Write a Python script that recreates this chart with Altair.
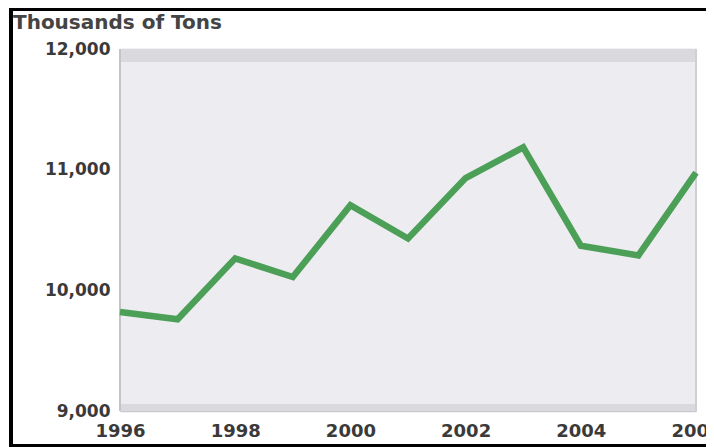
import altair as alt
import pandas as pd

years = [1996, 1997, 1998, 1999, 2000, 2001, 2002, 2003, 2004, 2005, 2006]
tons = [9820, 9760, 10265, 10110, 10705, 10430, 10930, 11185, 10370, 10290, 10975]
y_ticks = [9000, 10000, 11000, 12000]
x_ticks = [1996, 1998, 2000, 2002, 2004, 2006]
title_text = "Thousands of Tons"

df = pd.DataFrame({"year": years, "tons": tons})
one = pd.DataFrame({"k": [0]})

W, H = 576, 362
PR, PB = 10, 36
FONT = "DejaVu Sans"
TXT = "#3a3a3a"

x_enc = alt.X("year:Q",
              scale=alt.Scale(domain=[1996, 2006], nice=False, zero=False),
              axis=alt.Axis(values=x_ticks, format="d", title=None, grid=False,
                            domain=False, ticks=False, labelFlush=False,
                            labelOverlap=False, labelPadding=11,
                            labelFont=FONT, labelFontWeight="bold",
                            labelFontSize=18, labelColor=TXT))
y_enc = alt.Y("tons:Q",
              scale=alt.Scale(domain=[9000, 12000], nice=False, zero=False),
              axis=alt.Axis(values=y_ticks, format=",d", title=None, grid=True,
                            gridColor="#c9c8cd", gridWidth=1.5,
                            domain=False, ticks=False, labelPadding=10,
                            labelFont=FONT, labelFontWeight="bold",
                            labelFontSize=17, labelColor=TXT))

base = alt.Chart(one)

bg = base.mark_rect(color="#edecf1").encode(
    x=alt.value(0), x2=alt.value(W), y=alt.value(0), y2=alt.value(H))
top_band = base.mark_rect(color="#dad9de").encode(
    x=alt.value(0), x2=alt.value(W), y=alt.value(0), y2=alt.value(13))
bot_band = base.mark_rect(color="#dad9de").encode(
    x=alt.value(0), x2=alt.value(W), y=alt.value(355), y2=alt.value(H))
left_edge = base.mark_rect(color="#c4c3c8").encode(
    x=alt.value(-1), x2=alt.value(1), y=alt.value(0), y2=alt.value(H))
right_edge = base.mark_rect(color="#cfced3").encode(
    x=alt.value(W - 1), x2=alt.value(W + 1), y=alt.value(0), y2=alt.value(H))

grid_layer = alt.Chart(df).mark_line(opacity=0).encode(x=x_enc, y=y_enc)

line = alt.Chart(df).mark_line(color="#4c9f57", strokeWidth=6.5).encode(
    x="year:Q", y="tons:Q")

frame_left = base.mark_rect(color="#000000").encode(
    x=alt.value(-111), x2=alt.value(-107), y=alt.value(-41), y2=alt.value(H + PB))
frame_top = base.mark_rect(color="#000000").encode(
    x=alt.value(-111), x2=alt.value(W + PR), y=alt.value(-41), y2=alt.value(-38))
frame_bot = base.mark_rect(color="#000000").encode(
    x=alt.value(-111), x2=alt.value(W + PR), y=alt.value(H + PB - 3), y2=alt.value(H + PB))

title = base.mark_text(text=title_text, font=FONT, fontWeight="bold", fontSize=20,
                       color="#444444", align="left", baseline="alphabetic").encode(
    x=alt.value(-107), y=alt.value(-20))

chart = alt.layer(
    bg, top_band, bot_band, grid_layer, left_edge, right_edge, line,
    frame_left, frame_top, frame_bot, title
).properties(
    width=W, height=H,
    autosize=alt.AutoSizeParams(type="none"),
    padding={"left": 112, "top": 41, "right": PR, "bottom": PB},
).configure_view(stroke=None).configure(background="#ffffff")

chart.save("out.html", embed_options={"renderer": "svg", "actions": False})
